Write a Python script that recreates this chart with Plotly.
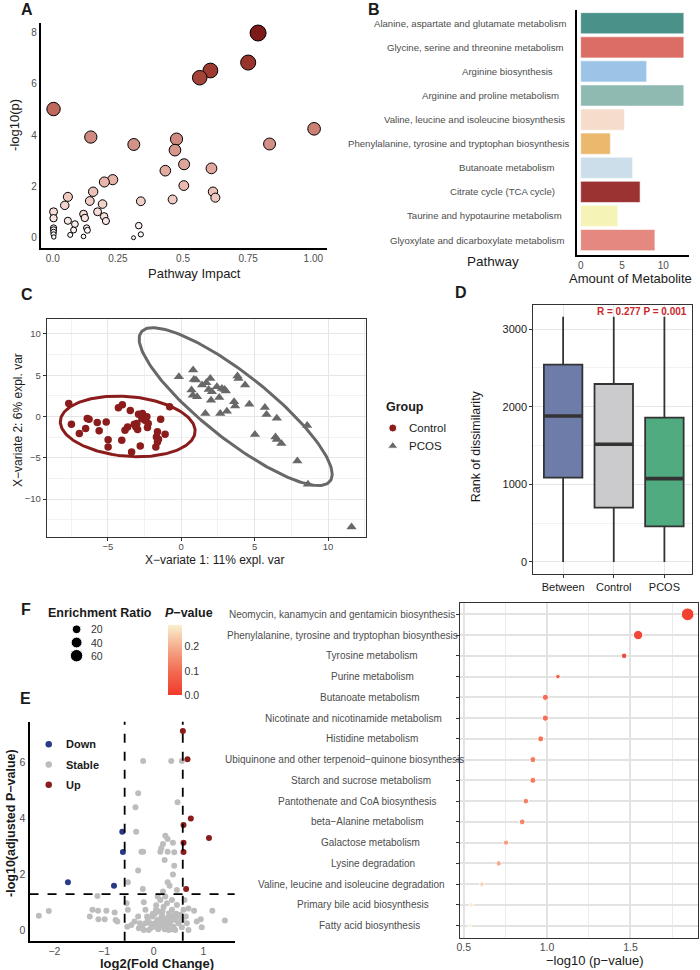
import numpy as np
import plotly.graph_objects as go

# ======================= DATA =======================
# ---- Panel A: pathway impact bubble plot ----
a_impact = [0.788, 0.750, 0.605, 0.564, 0.003, 1.003, 0.146, 0.311, 0.475, 0.469, 0.832,
            0.504, 0.432, 0.609, 0.230, 0.198, 0.503, 0.155, 0.615, 0.624, 0.460, 0.058,
            0.046, 0.142, 0.338, 0.191, 0.003, 0.172, 0.118, 0.197, 0.003, 0.123, 0.058,
            0.204, 0.085, 0.003, 0.003, 0.003, 0.003, 0.004, 0.080, 0.130, 0.133, 0.067,
            0.118, 0.330, 0.338, 0.310]
a_logp = [7.98, 6.83, 6.52, 6.24, 5.02, 4.25, 3.93, 3.64, 3.85, 3.42, 3.66,
          2.87, 2.62, 2.71, 2.27, 2.18, 2.04, 1.80, 1.80, 1.57, 1.50, 1.60,
          1.27, 1.44, 1.43, 1.32, 1.02, 1.02, 0.93, 0.84, 0.77, 0.78, 0.67,
          0.66, 0.54, 0.39, 0.32, 0.23, 0.14, 0.04, 0.31, 0.39, 0.30, 0.12,
          0.06, 0.48, 0.14, 0.01]
a_xticks = [0, 0.25, 0.5, 0.75, 1.0]
a_xticktext = ["0.0", "0.25", "0.5", "0.75", "1.00"]
a_yticks = [0, 2, 4, 6, 8]

# ---- Panel B: amount of metabolite per pathway ----
b_pathways = ["Alanine, aspartate and glutamate metabolism",
              "Glycine, serine and threonine metabolism",
              "Arginine biosynthesis",
              "Arginine and proline metabolism",
              "Valine, leucine and isoleucine biosynthesis",
              "Phenylalanine, tyrosine and tryptophan biosynthesis",
              "Butanoate metabolism",
              "Citrate cycle (TCA cycle)",
              "Taurine and hypotaurine metabolism",
              "Glyoxylate and dicarboxylate metabolism"]
b_amount = [12.5, 12.5, 8.0, 12.5, 5.3, 3.6, 6.3, 7.2, 4.5, 9.0]
b_xticks = [0, 5, 10]

# ---- Panel C: PLS-DA scores ----
c_control_x = [-7.66, -7.48, -6.94, -6.51, -6.40, -6.28, -5.72, -5.59, -5.11, -4.98, -4.98,
               -4.28, -4.01, -4.05, -3.83, -3.65, -3.47, -3.38, -3.20, -3.02, -2.97, -2.79,
               -2.91, -2.68, -2.64, -2.48, -2.34, -2.25, -2.30, -1.73, -1.69, -1.62, -1.55,
               -1.40, -1.10, -0.79, -1.62, -3.09]
c_control_y = [1.58, -0.93, -2.06, -1.46, -0.24, -0.32, -0.73, -1.74, -0.65, -2.83, -3.68,
               1.05, 1.42, -2.87, -1.66, -1.26, 0.73, -4.29, -0.93, -0.85, -1.58, -3.56,
               0.28, -0.24, 0.36, -0.45, -0.04, -0.85, -1.34, -3.68, -2.47, -1.86, -2.75,
               -0.32, -2.15, 1.17, -3.08, -1.26]
c_pcos_x = [-0.16, 0.81, 0.86, 1.01, 0.70, 0.79, 1.08, 1.42, 1.71, 1.98, 1.87, 2.03, 2.09,
            2.43, 2.59, 2.77, 2.95, 3.04, 2.66, 3.11, 1.64, 3.60, 3.67, 3.83, 3.90, 4.35,
            4.64, 5.70, 5.81, 6.51, 5.02, 6.42, 6.51, 6.82, 7.91, 8.58, 8.63, 11.6]
c_pcos_y = [4.82, 5.63, 4.49, 4.41, 3.20, 2.59, 2.39, 3.81, 4.09, 4.62, 3.28, 1.98, 3.00,
            3.60, 2.31, 3.40, 3.28, 3.08, 0.36, 0.65, 0.36, 1.79, 1.26, 4.90, 4.62, 3.81,
            1.50, 1.09, 0.24, -0.20, -2.19, -2.47, -2.79, -3.28, -5.38, -1.09, -8.22, -13.4]
c_groups = ["Control", "PCOS"]
c_xticks = [-5, 0, 5, 10]
c_yticks = [-10, -5, 0, 5, 10]
c_ellipse_level_t = 2.4477   # sqrt(qchisq(0.95, 2))

# ---- Panel D: ANOSIM rank boxplot ----
d_groups = ["Between", "Control", "PCOS"]
d_lower = [0, 0, 0]
d_q1 = [1086, 700, 459]
d_median = [1880, 1515, 1073]
d_q3 = [2541, 2292, 1858]
d_upper = [3159, 3159, 3159]
d_yticks = [0, 1000, 2000, 3000]
d_stat_text = "R = 0.277 P = 0.001"

# ---- Panel E: volcano plot ----
e_up_x = [0.587, 0.68, 0.747, 0.60, 1.113, 0.60, 0.60, 0.653]
e_up_y = [7.11, 6.10, 3.99, 3.76, 3.30, 3.13, 2.80, 1.48]
e_down_x = [-0.633, -0.62, -1.727, -0.80]
e_down_y = [3.52, 2.80, 1.72, 1.60]
e_stable_x = [-0.213, 0.353, 0.567, -0.313, -0.367, 0.48, -0.353, 0.233, 0.28, 0.187, 0.387,
              0.153, -0.247, -0.213, 0.133, 0.28, 0.413, 0.22, 0.413, -0.313, 0.387, 0.28,
              0.32, -0.52, -0.22, 0.187, 0.467, -1.133, 0.08,
              -2.313, -2.113, -1.287, -1.233, -1.12, -1.113, -0.953, -0.987, -0.787, -0.767,
              -0.733, -0.547, -0.52, -0.533, -0.387, -0.313, -0.2, -0.167, -0.233, -0.1,
              -0.067, -0.033, 0.0, 0.047, 0.067, 0.1, 0.133, 0.167, 0.2, 0.22, 0.247, 0.267,
              0.3, 0.333, 0.367, 0.4, 0.433, 0.467, 0.5, 0.533, 0.567, 0.567, 0.647, 0.667,
              0.70, 0.813, 0.867, 0.947, 0.967, 1.18, 1.433, -0.28, -0.167, 0.033, -0.133,
              0.02, 0.1, 0.3, 0.433, -0.2, 0.6, 0.7, 0.62, 0.233, 0.367, 0.133,
              -0.05, 0.05, 0.15, 0.25, 0.35, 0.45, -0.12, 0.12, 0.2, 0.31, 0.38, 0.05,
              -0.02, 0.18, 0.27, 0.42, 0.52, -0.3, -0.45, 0.09, 0.22, 0.34]
e_stable_y = [6.04, 6.04, 6.04, 4.89, 4.39, 4.57, 3.52, 3.38, 3.26, 3.08, 3.13,
              2.93, 2.81, 2.81, 2.81, 2.81, 2.79, 2.51, 2.31, 2.14, 2.00, 1.72,
              1.60, 1.72, 1.48, 1.39, 1.45, 1.23, 1.21,
              0.53, 0.70, 0.50, 0.74, 0.71, 0.40, 0.71, 0.40, 0.64, 0.38,
              0.32, 0.97, 0.74, 0.14, 0.32, 0.50, 1.01, 0.74, 0.12, 0.02,
              0.26, 0.50, 0.14, 0.74, 0.38, 0.08, 0.26, 0.56, 0.85, 0.38, 0.08, 0.97,
              0.26, 0.50, 0.74, 0.14, 0.38, 0.91, 0.26, 0.56, 0.12, 0.38, 0.50, 0.26,
              0.79, 0.71, 0.32, 0.40, 0.12, 0.71, 0.36, 0.26, 0.26, 0.26, 0.50,
              0.59, 0.68, 0.02, 0.02, 0.02, 0.74, 0.02, 1.09, 1.21, 1.09, 1.09,
              0.10, 0.20, 0.45, 0.30, 0.16, 0.60, 0.42, 0.33, 0.18, 0.62, 0.05, 0.90,
              0.60, 0.70, 0.45, 0.55, 0.48, 0.08, 0.20, 0.05, 0.05, 0.35]
e_fc_cut = 1.5
e_p_cut = 0.05
e_xticks = [-2, -1, 0, 1]
e_yticks = [0, 2, 4, 6]
e_status = ["Down", "Stable", "Up"]

# ---- Panel F: enrichment dot plot ----
f_pathways = ["Neomycin, kanamycin and gentamicin biosynthesis",
              "Phenylalanine, tyrosine and tryptophan biosynthesis",
              "Tyrosine metabolism",
              "Purine metabolism",
              "Butanoate metabolism",
              "Nicotinate and nicotinamide metabolism",
              "Histidine metabolism",
              "Ubiquinone and other terpenoid\u2212quinone biosynthesis",
              "Starch and sucrose metabolism",
              "Pantothenate and CoA biosynthesis",
              "beta\u2212Alanine metabolism",
              "Galactose metabolism",
              "Lysine degradation",
              "Valine, leucine and isoleucine degradation",
              "Primary bile acid biosynthesis",
              "Fatty acid biosynthesis"]
f_neglog10p = [1.843, 1.546, 1.462, 1.065, 0.990, 0.990, 0.962, 0.915, 0.915, 0.873,
               0.851, 0.754, 0.710, 0.609, 0.546, 0.538]
f_enrichment = [63, 25, 4.3, 2.5, 6.3, 6.3, 5.5, 5.5, 5.5, 4.5, 5.0, 3.6, 3.6, 2.3, 2.2, 2.0]
f_size_breaks = [20, 40, 60]
f_p_ticks = [0.0, 0.1, 0.2]
f_xticks = [0.5, 1.0, 1.5]

# ======================= STYLE / LAYOUT HELPERS =======================
W, H = 700, 970
FONT = "Liberation Sans, Arial, Helvetica, sans-serif"
GT = "#4D4D4D"


def xd(l, r):
    return [l / W, r / W]


def yd(t, b):
    return [1 - b / H, 1 - t / H]


def px(x):
    return x / W


def py(y):
    return 1 - y / H


annotations = []


def ann(text, x, y, size=12, color="black", xanchor="center", yanchor="middle", angle=0):
    annotations.append(dict(text=text, x=px(x), y=py(y), xref="paper", yref="paper",
                            showarrow=False, xanchor=xanchor, yanchor=yanchor,
                            textangle=angle, font=dict(family=FONT, size=size, color=color)))


fig = go.Figure()

# ---------------- Panel A ----------------
a_arr = np.array(a_logp)
a_sizes = 3.5 + 12.5 * np.sqrt(a_arr / a_arr.max())
a_scale = [[0, "#FFFFFF"], [0.25, "#EBBAB0"], [0.45, "#D49388"], [0.625, "#C06A5E"],
           [0.8, "#A13E32"], [1, "#7D1B1B"]]
fig.add_trace(go.Scatter(x=a_impact, y=a_logp, mode="markers", xaxis="x", yaxis="y",
                         marker=dict(size=a_sizes, color=a_logp, colorscale=a_scale, cmin=0,
                                     cmax=float(a_arr.max()), opacity=1,
                                     line=dict(color="black", width=1)),
                         showlegend=False, hoverinfo="skip"))

# ---------------- Panel B ----------------
b_colors = ["#4A9189", "#DC6D65", "#9CC4E6", "#8FBAB2", "#F6DCCB", "#EAB96E",
            "#CCDEEA", "#9C3333", "#F5F3B5", "#E5887F"]
fig.add_trace(go.Bar(y=b_pathways, x=b_amount, orientation="h", xaxis="x2", yaxis="y2",
                     marker=dict(color=b_colors, line=dict(color="white", width=0.6)),
                     width=0.88, showlegend=False, hoverinfo="skip"))

# ---------------- Panel C ----------------
c_colors = {"Control": "#8B1C1C", "PCOS": "#686868"}


def ellipse(xs, ys, t, n=200):
    X = np.vstack([xs, ys])
    mu = X.mean(axis=1)
    cov = np.cov(X)
    vals, vecs = np.linalg.eigh(cov)
    ang = np.linspace(0, 2 * np.pi, n)
    circ = np.vstack([np.cos(ang), np.sin(ang)])
    pts = mu[:, None] + t * (vecs @ (np.sqrt(vals)[:, None] * circ))
    return pts[0], pts[1]


for g, xs, ys in [("Control", c_control_x, c_control_y), ("PCOS", c_pcos_x, c_pcos_y)]:
    ex, ey = ellipse(np.array(xs), np.array(ys), c_ellipse_level_t)
    fig.add_trace(go.Scatter(x=ex, y=ey, mode="lines", xaxis="x3", yaxis="y3",
                             line=dict(color=c_colors[g], width=3), showlegend=False,
                             hoverinfo="skip"))
fig.add_trace(go.Scatter(x=c_control_x, y=c_control_y, mode="markers", xaxis="x3", yaxis="y3",
                         marker=dict(symbol="circle", size=7.5, color=c_colors["Control"],
                                     opacity=1),
                         showlegend=False, hoverinfo="skip"))
fig.add_trace(go.Scatter(x=c_pcos_x, y=c_pcos_y, mode="markers", xaxis="x3", yaxis="y3",
                         marker=dict(symbol="triangle-up", size=9, color=c_colors["PCOS"],
                                     opacity=1),
                         showlegend=False, hoverinfo="skip"))
# legend keys (own mini axis)
fig.add_trace(go.Scatter(x=[0, 0], y=[0, 1], mode="markers", xaxis="x8", yaxis="y8",
                         marker=dict(symbol=["circle", "triangle-up"], size=[8, 9], opacity=1,
                                     color=[c_colors[g] for g in c_groups]),
                         showlegend=False, hoverinfo="skip"))

# ---------------- Panel D ----------------
d_fill = ["#6E7CAA", "#CBCBCD", "#50AB80"]
d_pos = [1, 2, 3]
d_w = 0.76
for i in range(3):
    fig.add_trace(go.Box(x=[d_pos[i]], q1=[d_q1[i]], median=[d_median[i]], q3=[d_q3[i]],
                         lowerfence=[d_lower[i]], upperfence=[d_upper[i]],
                         xaxis="x4", yaxis="y4", width=d_w, fillcolor=d_fill[i],
                         line=dict(color="#333333", width=1.8), whiskerwidth=0,
                         boxpoints=False, showlegend=False, hoverinfo="skip"))
    fig.add_trace(go.Scatter(x=[d_pos[i] - d_w / 2, d_pos[i] + d_w / 2],
                             y=[d_median[i], d_median[i]], mode="lines", xaxis="x4", yaxis="y4",
                             line=dict(color="#333333", width=3.6), showlegend=False,
                             hoverinfo="skip"))

# ---------------- Panel E ----------------
e_colors = {"Down": "#2B3A86", "Stable": "#BDBDBD", "Up": "#8B1C1C"}
for st, xs, ys in [("Stable", e_stable_x, e_stable_y), ("Down", e_down_x, e_down_y),
                   ("Up", e_up_x, e_up_y)]:
    fig.add_trace(go.Scatter(x=xs, y=ys, mode="markers", xaxis="x5", yaxis="y5",
                             marker=dict(size=6, color=e_colors[st], opacity=1),
                             showlegend=False, hoverinfo="skip"))
fig.add_trace(go.Scatter(x=[0, 0, 0], y=[0, 1, 2], mode="markers", xaxis="x9", yaxis="y9",
                         marker=dict(size=6.5, color=[e_colors[s] for s in e_status],
                                     opacity=1),
                         showlegend=False, hoverinfo="skip"))
fc_line = np.log2(e_fc_cut)
p_line = -np.log10(e_p_cut)
shapes = []
for xv in [-fc_line, fc_line]:
    shapes.append(dict(type="line", xref="x5", yref="y5 domain", x0=xv, x1=xv, y0=0, y1=1,
                       line=dict(color="black", width=1.8, dash="dash")))
shapes.append(dict(type="line", xref="x5 domain", yref="y5", x0=0, x1=1, y0=p_line, y1=p_line,
                   line=dict(color="black", width=1.8, dash="dash")))

# ---------------- Panel F ----------------
f_er = np.array(f_enrichment)
er_min, er_max = f_er.min(), f_er.max()


def f_size(v):
    v = np.clip(np.asarray(v, dtype=float), er_min, er_max)
    return 3.9 + 8.8 * np.sqrt((v - er_min) / (er_max - er_min))


f_p = 10 ** (-np.array(f_neglog10p))
f_scale = [[0, "#F03A2C"], [0.33, "#F26A50"], [0.66, "#F5A888"], [1, "#FAF0CF"]]
fig.add_trace(go.Scatter(x=f_neglog10p, y=f_pathways, mode="markers", xaxis="x6", yaxis="y6",
                         marker=dict(size=f_size(f_enrichment), color=f_p, colorscale=f_scale,
                                     cmin=0, cmax=0.29, showscale=True, opacity=1,
                                     colorbar=dict(x=px(166), xanchor="left", xpad=0,
                                                   y=py(660), yanchor="middle", ypad=0,
                                                   len=70, lenmode="pixels", thickness=14,
                                                   outlinewidth=0, ticks="",
                                                   tickvals=f_p_ticks,
                                                   ticktext=["%.1f" % v for v in f_p_ticks],
                                                   tickfont=dict(family=FONT, size=10.5,
                                                                 color="#333333"))),
                         showlegend=False, hoverinfo="skip"))
fig.add_trace(go.Scatter(x=[0, 0, 0], y=[0, 1, 2], mode="markers", xaxis="x7", yaxis="y7",
                         marker=dict(size=f_size(f_size_breaks), color="black", opacity=1),
                         showlegend=False, hoverinfo="skip"))

# ======================= AXES =======================
tf = lambda s, c=GT: dict(family=FONT, size=s, color=c)
hidden = dict(visible=False, showgrid=False, zeroline=False, fixedrange=True)

layout_axes = dict(
    # A
    xaxis=dict(domain=xd(38, 326), range=[-0.046, 1.053], anchor="y", showline=True,
               linecolor="black", linewidth=2, showgrid=False, zeroline=False,
               tickvals=a_xticks, ticktext=a_xticktext, tickfont=tf(10)),
    yaxis=dict(domain=yd(23, 248), range=[-0.39, 8.37], anchor="x", showline=True,
               linecolor="black", linewidth=2, showgrid=False, zeroline=False,
               tickvals=a_yticks, tickfont=tf(10)),
    # B
    xaxis2=dict(domain=xd(577, 690), range=[-0.48, 13.13], anchor="y2", showline=True,
                linecolor="black", linewidth=2, showgrid=False, zeroline=False,
                tickvals=b_xticks, tickfont=tf(10)),
    yaxis2=dict(domain=yd(10, 255), type="category", categoryorder="array",
                categoryarray=b_pathways, range=[9.62, -0.55], anchor="x2", showline=True,
                linecolor="black", linewidth=2, showgrid=False, zeroline=False,
                showticklabels=False),
    # C
    xaxis3=dict(domain=xd(44, 365), range=[-9.16, 12.58], anchor="y3", showline=True,
                mirror=True, linecolor="#333333", linewidth=1, showgrid=True,
                gridcolor="#E6E6E6", gridwidth=1, zeroline=False, tickvals=c_xticks,
                ticks="outside", ticklen=3, tickcolor="#333333", tickfont=tf(9.5),
                ticklabelstandoff=-2,
                minor=dict(tickvals=[-7.5, -2.5, 2.5, 7.5, 12.5], showgrid=True,
                           gridcolor="#F2F2F2", gridwidth=0.8)),
    yaxis3=dict(domain=yd(319.3, 537), range=[-14.6, 11.78], anchor="x3", showline=True,
                mirror=True, linecolor="#333333", linewidth=1, showgrid=True,
                gridcolor="#E6E6E6", gridwidth=1, zeroline=False, tickvals=c_yticks,
                ticks="outside", ticklen=3, tickcolor="#333333", tickfont=tf(9.5),
                minor=dict(tickvals=[-12.5, -7.5, -2.5, 2.5, 7.5], showgrid=True,
                           gridcolor="#F2F2F2", gridwidth=0.8)),
    # D
    xaxis4=dict(domain=xd(533.3, 692.7), range=[0.41, 3.54], anchor="y4", showline=True,
                mirror=True, linecolor="#333333", linewidth=1, showgrid=True,
                gridcolor="#E6E6E6", gridwidth=1, zeroline=False, tickvals=d_pos,
                ticktext=d_groups, ticks="outside", ticklen=3, tickcolor="#333333",
                tickfont=tf(11, "#1A1A1A")),
    yaxis4=dict(domain=yd(305, 574), range=[-155, 3309], anchor="x4", showline=True,
                mirror=True, linecolor="#333333", linewidth=1, showgrid=True,
                gridcolor="#E6E6E6", gridwidth=1, zeroline=False, tickvals=d_yticks,
                ticks="outside", ticklen=3, tickcolor="#333333", tickfont=tf(11, "#1A1A1A"),
                minor=dict(tickvals=[500, 1500, 2500], showgrid=True, gridcolor="#F2F2F2",
                           gridwidth=0.8)),
    # E
    xaxis5=dict(domain=xd(26.7, 233), range=[-2.5, 1.63], anchor="y5", showline=True,
                linecolor="black", linewidth=2, showgrid=False, zeroline=False,
                tickvals=e_xticks, tickfont=tf(10.5)),
    yaxis5=dict(domain=yd(721.7, 940.7), range=[-0.36, 7.44], anchor="x5", showline=True,
                linecolor="black", linewidth=2, showgrid=False, zeroline=False,
                tickvals=e_yticks, tickfont=tf(10.5)),
    # F
    xaxis6=dict(domain=xd(459.3, 699.3), range=[0.476, 1.907], anchor="y6", showline=True,
                mirror=True, linecolor="#333333", linewidth=1.2, showgrid=True,
                gridcolor="#E3E3E3", gridwidth=1.6, zeroline=False, tickvals=f_xticks,
                ticktext=["%.1f" % v for v in f_xticks], tickfont=tf(10.5),
                minor=dict(tickvals=[0.75, 1.25, 1.75], showgrid=True, gridcolor="#EBEBEB",
                           gridwidth=1.4)),
    yaxis6=dict(domain=yd(602.7, 937.7), type="category", categoryorder="array",
                categoryarray=f_pathways, range=[15.58, -0.56], anchor="x6", showline=True,
                mirror=True, linecolor="#333333", linewidth=1.2, showgrid=True,
                gridcolor="#E3E3E3", gridwidth=1.6, zeroline=False, showticklabels=False,
                ticks="outside", ticklen=3, tickcolor="#333333"),
    # F size legend
    xaxis7=dict(domain=xd(66, 82), range=[-1, 1], anchor="y7", **hidden),
    yaxis7=dict(domain=yd(622.7, 662.3), range=[2.5, -0.5], anchor="x7", **hidden),
    # C legend
    xaxis8=dict(domain=xd(384, 400), range=[-1, 1], anchor="y8", **hidden),
    yaxis8=dict(domain=yd(419, 455), range=[1.5, -0.5], anchor="x8", **hidden),
    # E legend
    xaxis9=dict(domain=xd(38, 54), range=[-1, 1], anchor="y9", **hidden),
    yaxis9=dict(domain=yd(734, 795), range=[2.5, -0.5], anchor="x9", **hidden),
)

# ======================= TEXT =======================
# panel letters
for letter, x, y in [("A", 24, 10), ("B", 373, 10), ("C", 24, 294), ("D", 461, 292),
                     ("F", 23, 609), ("E", 23, 698)]:
    ann("<b>%s</b>" % letter, x, y, size=16, color="#1A1A1A")

# A titles
ann("-log10(p)", 12, 125, size=13, color="#1A1A1A", angle=-90)
ann("Pathway Impact", 193, 273, size=13, color="#1A1A1A")

# B labels & titles
b_label_cx = [469.8, 475.5, 507.7, 490.5, 474.0, 458.7, 506.2, 502.8, 484.2, 476.8]
for i, name in enumerate(b_pathways):
    annotations.append(dict(text=name, x=px(b_label_cx[i]), y=name, xref="paper", yref="y2",
                            showarrow=False, xanchor="center", yanchor="middle",
                            font=dict(family=FONT, size=9.6, color=GT)))
ann("Pathway", 493, 262, size=13.5, color="#1A1A1A")
ann("Amount of Metabolite", 631, 278, size=13, color="#1A1A1A")

# C titles & legend
ann("X\u2212variate 1: 11% expl. var", 213, 559.5, size=12, color="#1A1A1A")
ann("X\u2212variate 2: 6% expl. var", 15, 420, size=12, color="#1A1A1A", angle=-90)
ann("<b>Group</b>", 383, 407, size=12.5, color="#1A1A1A", xanchor="left")
for i, g in enumerate(c_groups):
    ann(g, 406, 428 + 18 * i, size=11.5, color="#1A1A1A", xanchor="left")

# D titles
ann("Rank of dissimilarity", 476, 446, size=12.5, color="#1A1A1A", angle=-90)
ann("<b>%s</b>" % d_stat_text, 643, 311.5, size=10, color="#C8282C")

# E titles & legend
ann("<b>-log10(adjusted P\u2212value)</b>", 8, 823, size=12.5, color="#1A1A1A", angle=-90)
ann("<b>log2(Fold Change)</b>", 155, 963, size=13, color="#1A1A1A")
for i, s in enumerate(e_status):
    ann("<b>%s</b>" % s, 61, 744.3 + 20.4 * i, size=11, color="#1A1A1A", xanchor="left")

# F legend titles
ann("<b>Enrichment Ratio</b>", 98, 613, size=12.5, color="#1A1A1A")
for i, v in enumerate(f_size_breaks):
    ann(str(v), 86, 629.3 + 13.2 * i, size=10.5, color="#333333", xanchor="left")
ann("<b><i>P</i>\u2212value</b>", 187, 613, size=12.5, color="#1A1A1A")

# F labels & title
f_label_cx = [340.7, 341.5, 370.8, 372.0, 368.8, 352.7, 370.7, 343.0, 360.3, 356.5,
              366.3, 369.2, 372.2, 350.5, 362.0, 368.7]
for i, name in enumerate(f_pathways):
    annotations.append(dict(text=name, x=px(f_label_cx[i]), y=name, xref="paper", yref="y6",
                            showarrow=False, xanchor="center", yanchor="middle",
                            font=dict(family=FONT, size=10, color=GT)))
ann("\u2212log10 (p\u2212value)", 595, 960, size=13, color="#1A1A1A")

fig.update_layout(width=W, height=H, margin=dict(l=0, r=0, t=0, b=0),
                  paper_bgcolor="white", plot_bgcolor="white",
                  font=dict(family=FONT, size=11, color="#1A1A1A"),
                  showlegend=False, annotations=annotations, shapes=shapes, **layout_axes)

fig.write_html("out.html")
